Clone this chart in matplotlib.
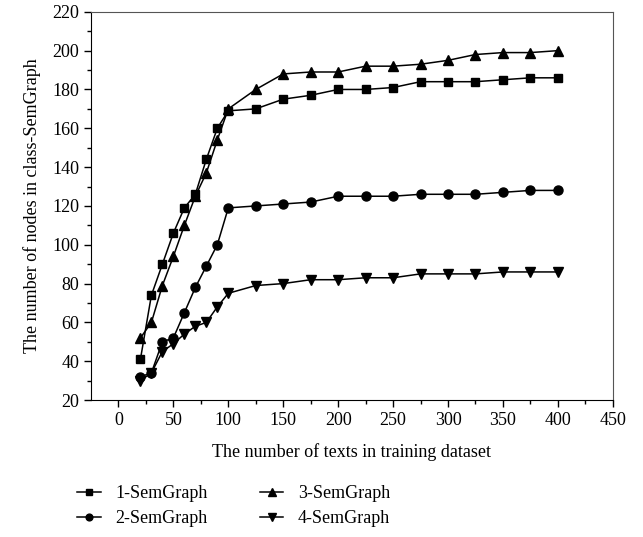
import matplotlib.pyplot as plt

plt.rcParams['font.family'] = ['Liberation Serif', 'DejaVu Serif']

# number of texts in training dataset
x = [20, 30, 40, 50, 60, 70, 80, 90, 100, 125, 150, 175, 200,
     225, 250, 275, 300, 325, 350, 375, 400]

sem1 = [41, 74, 90, 106, 119, 126, 144, 160, 169, 170, 175, 177, 180,
        180, 181, 184, 184, 184, 185, 186, 186]
sem2 = [32, 34, 50, 52, 65, 78, 89, 100, 119, 120, 121, 122, 125,
        125, 125, 126, 126, 126, 127, 128, 128]
sem3 = [52, 60, 79, 94, 110, 125, 137, 154, 170, 180, 188, 189, 189,
        192, 192, 193, 195, 198, 199, 199, 200]
sem4 = [30, 34, 45, 49, 54, 58, 60, 68, 75, 79, 80, 82, 82,
        83, 83, 85, 85, 85, 86, 86, 86]

labels = ['1-SemGraph', '2-SemGraph', '3-SemGraph', '4-SemGraph']

fig = plt.figure(figsize=(6.43, 5.37), dpi=100)
ax = fig.add_axes([0.1415, 0.255, 0.8115, 0.723])

l1, = ax.plot(x, sem1, '-', color='black', marker='s', ms=6, lw=1.1)
l2, = ax.plot(x, sem2, '-', color='black', marker='o', ms=6.5, lw=1.1)
l3, = ax.plot(x, sem3, '-', color='black', marker='^', ms=7, lw=1.1)
l4, = ax.plot(x, sem4, '-', color='black', marker='v', ms=7, lw=1.1)

ax.set_xlim(-25, 450)
ax.set_ylim(20, 220)
ax.set_xticks(range(0, 451, 50))
ax.set_xticks(range(25, 451, 50), minor=True)
ax.set_yticks(range(20, 221, 20))
ax.set_yticks(range(30, 221, 20), minor=True)
ax.tick_params(which='major', direction='out', length=5, width=1, labelsize=13)
ax.tick_params(which='minor', direction='out', length=3, width=1)
ax.spines['top'].set_color('#555555')
ax.spines['right'].set_color('#555555')

ax.set_xlabel('The number of texts in training dataset', fontsize=13, labelpad=10)
ax.set_ylabel('The number of nodes in class-SemGraph', fontsize=13, labelpad=8)

fig.legend([l1, l2, l3, l4], labels, ncol=2, frameon=False, fontsize=13,
           loc='lower left', bbox_to_anchor=(0.095, -0.012), markerscale=0.75,
           handlelength=1.3, handletextpad=0.8, columnspacing=2.9,
           labelspacing=0.45)

fig.savefig('out.png', dpi=100)
